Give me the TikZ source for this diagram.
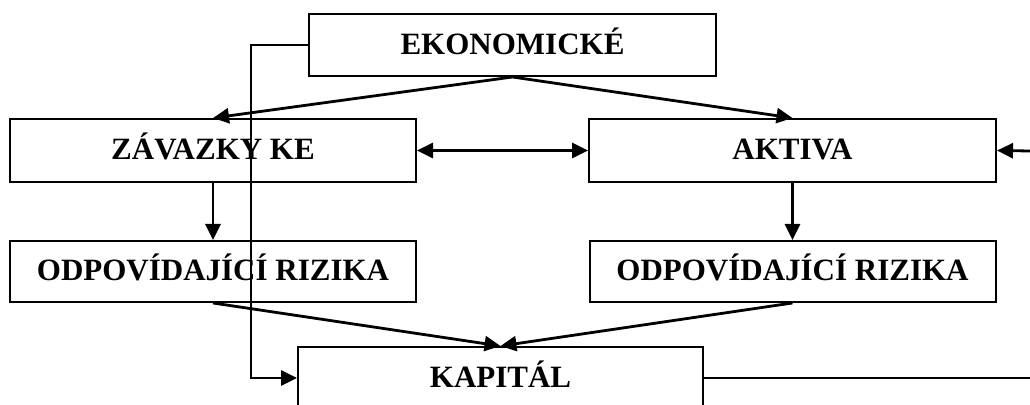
\documentclass[tikz,border=0pt]{standalone}
\usepackage{fontspec}
\setmainfont{Liberation Serif}
\usetikzlibrary{arrows.meta}

\begin{document}
\begin{tikzpicture}[x=0.5pt,y=0.5pt,
	box/.style={draw,line width=1pt,inner sep=0pt,text height=12pt,text depth=2.5pt,
		font=\fontsize{15.5}{18}\selectfont\bfseries},
	arr/.style={line width=1.4pt,-{Triangle[length=8pt,width=7.5pt]}},
	link/.style={line width=1.4pt}]

		\useasboundingbox (0,0) rectangle (1030,405);
		\clip (0,0) rectangle (1030,405);

		%Boxes
		\node[box,minimum width=203.5pt,minimum height=31pt] (eko) at (512.5,360) {EKONOMICKÉ};
		\node[box,minimum width=203pt,minimum height=31.5pt] (zav) at (213,254.5) {ZÁVAZKY KE};
		\node[box,minimum width=203.5pt,minimum height=31.5pt] (akt) at (792.5,254.5) {AKTIVA};
		\node[box,minimum width=203pt,minimum height=30.5pt] (odl) at (213,133.5) {ODPOVÍDAJÍCÍ RIZIKA};
		\node[box,minimum width=203pt,minimum height=30.5pt] (odr) at (792.5,133.5) {ODPOVÍDAJÍCÍ RIZIKA};
		\node[box,minimum width=202.5pt,minimum height=31pt] (kap) at (500.5,27) {KAPITÁL};

		%Loose ends at the border
		\coordinate (lft) at (251,360);
		\coordinate (rin) at (1030,254);
		\coordinate (rout) at (1030,27);

		%From the top box down
		\draw[arr] (eko.south) -- (zav.north);
		\draw[arr] (eko.south) -- (akt.north);
		\draw[line width=1.4pt,{Triangle[length=8pt,width=7.5pt]}-{Triangle[length=8pt,width=7.5pt]}] (zav.east) -- (akt.west);
		\draw[arr] (rin) -- (akt.east);

		%Risks
		\draw[arr] (zav.south) -- (odl.north);
		\draw[arr] (akt.south) -- (odr.north);
		\draw[arr] (odl.south) -- (kap.north);
		\draw[arr] (odr.south) -- (kap.north);

		%Loops round the side
		\draw[arr] (eko.west) -- (lft) |- (kap.west);
		\draw[link] (kap.east) -- (rout);

\end{tikzpicture}
\end{document}
